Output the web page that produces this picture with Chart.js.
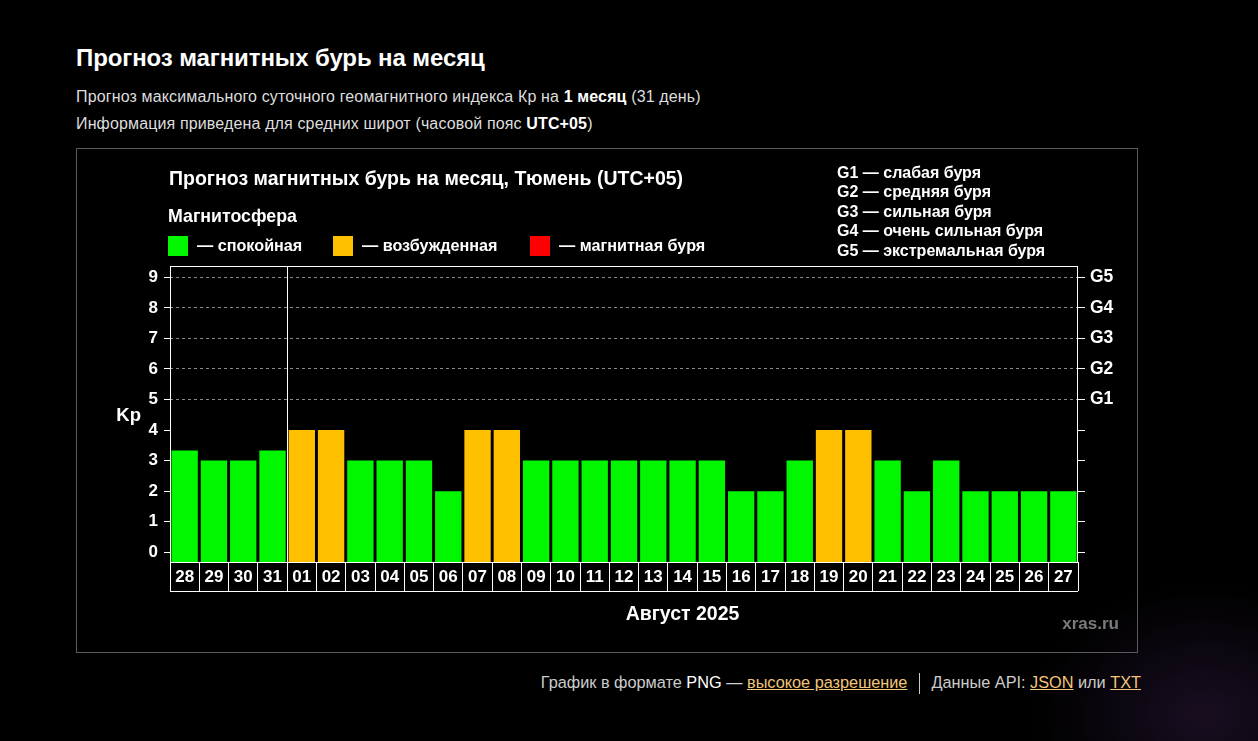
<!DOCTYPE html>
<html lang="ru">
<head>
<meta charset="utf-8">
<title>Прогноз магнитных бурь на месяц</title>
<script src="https://cdn.jsdelivr.net/npm/chart.js@4.4.1/dist/chart.umd.min.js"></script>
<style>
html,body{margin:0;padding:0;background:#000;}
body{width:1258px;height:741px;position:relative;overflow:hidden;font-family:"Liberation Sans",Arial,sans-serif;color:#ddd;
 background:radial-gradient(ellipse 170px 130px at 1205px 715px, rgba(70,40,95,0.35), rgba(0,0,0,0) 100%), #000;}
h1{position:absolute;left:76px;top:44px;margin:0;font-size:24px;font-weight:bold;color:#fff;line-height:28px;white-space:nowrap;letter-spacing:-0.1px;}
.sub{position:absolute;left:76px;font-size:16px;line-height:20px;color:#ddd;white-space:nowrap;letter-spacing:0.14px;}
.sub b{color:#fff;}
#box{position:absolute;left:76px;top:148px;width:1060px;height:503px;border:1px solid #5a5a5a;}
#box canvas{display:block;}
#foot{position:absolute;right:117px;top:671px;font-size:16.3px;line-height:22px;color:#ccc;white-space:nowrap;}
#foot a{color:#f3c57a;text-decoration:underline;}
#foot .sep{display:inline-block;width:0;height:21px;border-left:1px solid #ccc;vertical-align:middle;margin:0 11px 0 12px;}
</style>
</head>
<body>
<h1>Прогноз магнитных бурь на месяц</h1>
<div class="sub" style="top:87px">Прогноз максимального суточного геомагнитного индекса Кр на <b>1 месяц</b> (31 день)</div>
<div class="sub" style="top:114px">Информация приведена для средних широт (часовой пояс <b>UTC+05</b>)</div>
<div id="box"><canvas id="c"></canvas></div>
<div id="foot">График в формате <span style="color:#fff">PNG</span> — <a href="#">высокое разрешение</a><span class="sep"></span>Данные API: <a href="#">JSON</a> или <a href="#">TXT</a></div>
<script>
// ---- data ----
const DAYS = ['28','29','30','31','01','02','03','04','05','06','07','08','09','10','11','12','13','14','15','16','17','18','19','20','21','22','23','24','25','26','27'];
const KP = [3.33,3,3,3.33,4,4,3,3,3,2,4,4,3,3,3,3,3,3,3,2,2,3,4,4,3,2,3,2,2,2,2];
const MONTH_START = 4; // index of '01'
const KP_TICKS = [0,1,2,3,4,5,6,7,8,9];
const G_TICKS = ['','','','','','G1','G2','G3','G4','G5'];
const Y_MIN = -0.32, Y_MAX = 9.37;
const CHART_TITLE = 'Прогноз магнитных бурь на месяц, Тюмень (UTC+05)';
const LEGEND_TITLE = 'Магнитосфера';
const LEGEND_ITEMS = ['— спокойная','— возбужденная','— магнитная буря'];
const G_LEGEND = ['G1 — слабая буря','G2 — средняя буря','G3 — сильная буря','G4 — очень сильная буря','G5 — экстремальная буря'];
const X_TITLE = 'Август 2025';
const Y_TITLE = 'Kp';
const WATERMARK = 'xras.ru';

const C_CALM = '#00f700', C_ACTIVE = '#ffc000', C_STORM = '#ff0000';
const LEGEND_COLORS = [C_CALM, C_ACTIVE, C_STORM];
const colorFor = v => v >= 5 ? C_STORM : (v >= 4 ? C_ACTIVE : C_CALM);
const FONT = '"Liberation Sans", Arial, sans-serif';

Chart.defaults.font.family = FONT;
Chart.defaults.color = '#fff';

const decor = {
  id: 'decor',
  afterDraw(chart) {
    const {ctx, chartArea: a} = chart;
    ctx.save();
    ctx.strokeStyle = '#fff';
    ctx.lineWidth = 1;
    ctx.strokeRect(a.left + 0.5, a.top + 0.5, a.right - a.left - 1, a.bottom - a.top);
    ctx.beginPath();
    ctx.moveTo(a.left, a.bottom + 29.5);
    ctx.lineTo(a.right, a.bottom + 29.5);
    ctx.stroke();

    ctx.fillStyle = '#fff';
    ctx.textBaseline = 'middle';
    ctx.textAlign = 'left';
    ctx.font = 'bold 19.5px ' + FONT;
    ctx.fillText(CHART_TITLE, 92, 30.5);
    ctx.font = 'bold 17.8px ' + FONT;
    ctx.fillText(LEGEND_TITLE, 91, 68);
    ctx.font = 'bold 16.2px ' + FONT;
    const boxX = [91, 256, 453];
    LEGEND_ITEMS.forEach((t, i) => {
      ctx.fillStyle = LEGEND_COLORS[i];
      ctx.fillRect(boxX[i], 87, 20, 20);
      ctx.fillStyle = '#fff';
      ctx.fillText(t, boxX[i] + 29, 98);
    });
    ctx.font = 'bold 16px ' + FONT;
    G_LEGEND.forEach((t, i) => {
      ctx.fillText(t, 760, 24.5 + i * 19.5);
    });
    ctx.font = 'bold 18.5px ' + FONT;
    ctx.textAlign = 'right';
    ctx.fillText(Y_TITLE, 64, chart.scales.y.getPixelForValue(4.5) + 1);
    ctx.font = 'bold 19.5px ' + FONT;
    ctx.textAlign = 'center';
    ctx.fillText(X_TITLE, 605.5, 465.5);
    ctx.font = 'bold 17px ' + FONT;
    ctx.fillStyle = '#7a7a7a';
    ctx.textAlign = 'right';
    ctx.fillText(WATERMARK, 1042, 475.5);
    ctx.restore();
  }
};

new Chart(document.getElementById('c'), {
  type: 'bar',
  data: {
    labels: DAYS,
    datasets: [{
      label: 'Kp',
      data: KP,
      yAxisID: 'y',
      base: Y_MIN,
      backgroundColor: ctx => colorFor(ctx.raw),
      borderWidth: 0,
      barPercentage: 0.9,
      categoryPercentage: 1.0
    }]
  },
  options: {
    responsive: true,
    maintainAspectRatio: false,
    animation: false,
    layout: {padding: {top: 117, left: 0, right: 0, bottom: 0}},
    plugins: {legend: {display: false}, tooltip: {enabled: false}, title: {display: false}},
    scales: {
      x: {
        type: 'category',
        offset: true,
        grid: {
          offset: true,
          drawOnChartArea: true,
          color: c => c.index === MONTH_START ? '#ffffff' : 'rgba(0,0,0,0)',
          tickColor: '#ffffff',
          tickLength: 29,
          lineWidth: 1
        },
        border: {display: false},
        ticks: {color: '#fff', font: {size: 17, weight: 'bold'}, padding: -24, autoSkip: false, maxRotation: 0, minRotation: 0},
        afterFit: s => { s.height = 90; }
      },
      y: {
        position: 'left',
        min: Y_MIN,
        max: Y_MAX,
        afterBuildTicks: s => { s.ticks = KP_TICKS.map(v => ({value: v})); },
        afterFit: s => { s.width = 93; },
        grid: {
          color: c => (c.tick && c.tick.value >= 5) ? '#8a8a8a' : 'rgba(0,0,0,0)',
          tickColor: '#ffffff',
          tickLength: 6,
          drawTicks: true
        },
        border: {display: false, dash: [3, 3]},
        ticks: {color: '#fff', font: {size: 17, weight: 'bold'}, padding: 6}
      },
      y2: {
        position: 'right',
        min: Y_MIN,
        max: Y_MAX,
        afterBuildTicks: s => { s.ticks = KP_TICKS.map(v => ({value: v})); },
        afterFit: s => { s.width = 59; },
        grid: {drawOnChartArea: false, tickColor: '#ffffff', tickLength: 7},
        border: {display: false},
        ticks: {color: '#fff', font: {size: 17.5, weight: 'bold'}, padding: 5, callback: v => G_TICKS[v] || ''}
      }
    }
  },
  plugins: [decor]
});
</script>
</body>
</html>
